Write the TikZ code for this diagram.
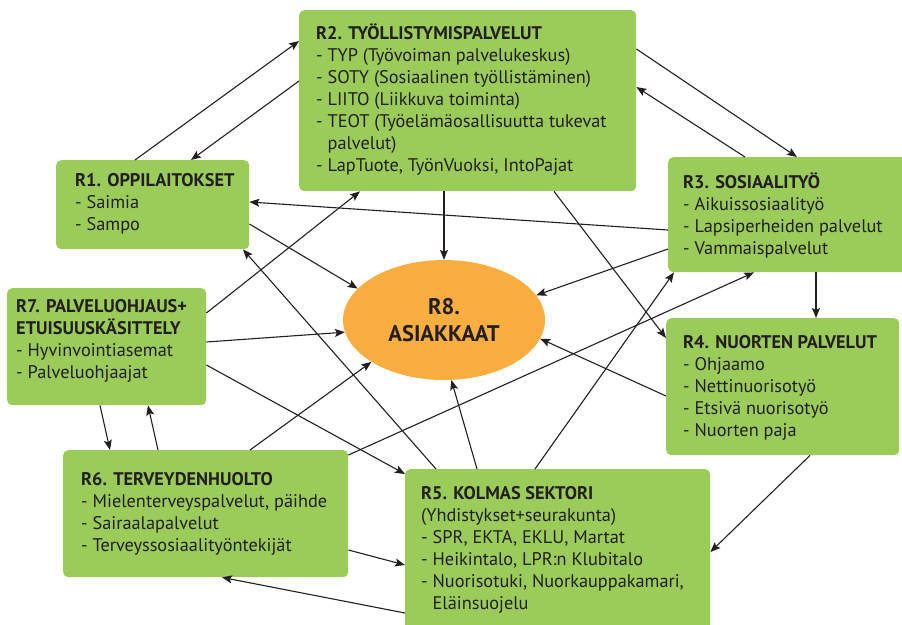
\documentclass[tikz,border=0pt]{standalone}
\usepackage{fontspec}
\setmainfont{PT Sans}
\usetikzlibrary{arrows.meta,shapes.geometric,calc}
\definecolor{boxgreen}{HTML}{9BCB58}
\definecolor{asorange}{HTML}{FAAE40}
\definecolor{ink}{HTML}{231F20}
\begin{document}
\begin{tikzpicture}[x=1pt,y=-1pt,
  box/.style={draw=none,fill=boxgreen,rounded corners=5pt,inner sep=0pt,anchor=north west},
  txt/.style={anchor=north west,yshift=15.4pt,align=left,inner sep=0pt,text=ink,font=\fontsize{18.3}{22}\selectfont,execute at begin node=\strut},
  link/.style={draw=ink,line width=1.1pt,-{Stealth[length=10pt,width=8pt,inset=2pt]}}]
\useasboundingbox (0,0) rectangle (902,624);
% boxes
\node[box,minimum width=193pt,minimum height=89pt] (r1) at (56,160) {};
\node[box,minimum width=337pt,minimum height=181pt] (r2) at (299,10) {};
\node[box,minimum width=240pt,minimum height=115pt] (r3) at (668,157) {};
\node[box,minimum width=233pt,minimum height=137pt] (r4) at (666,318) {};
\node[box,minimum width=305pt,minimum height=175pt] (r5) at (405,469) {};
\node[box,minimum width=285pt,minimum height=127pt] (r6) at (63,450) {};
\node[box,minimum width=199pt,minimum height=117pt] (r7) at (7,288) {};
\node[ellipse,fill=asorange,minimum width=202pt,minimum height=120pt,inner sep=0pt,align=center,text=ink,font=\bfseries\fontsize{22.6}{27}\selectfont] (r8) at (444,320) {R8.\\ASIAKKAAT};
% texts
\node[txt] (r1t) at (75,189) {\textbf{R1. OPPILAITOKSET}\\- Saimia\\- Sampo};
\node[txt] (r2t) at (316,39) {\textbf{R2. TYÖLLISTYMISPALVELUT}\\- TYP (Työvoiman palvelukeskus)\\- SOTY (Sosiaalinen työllistäminen)\\- LIITO (Liikkuva toiminta)\\- TEOT (Työelämäosallisuutta tukevat\\\phantom{- }palvelut)\\- LapTuote, TyönVuoksi, IntoPajat};
\node[txt] (r3t) at (683,188) {\textbf{R3. SOSIAALITYÖ}\\- Aikuissosiaalityö\\- Lapsiperheiden palvelut\\- Vammaispalvelut};
\node[txt] (r4t) at (683,351) {\textbf{R4. NUORTEN PALVELUT}\\- Ohjaamo\\- Nettinuorisotyö\\- Etsivä nuorisotyö\\- Nuorten paja};
\node[txt] (r5t) at (421,502) {\textbf{R5. KOLMAS SEKTORI}\\(Yhdistykset+seurakunta)\\- SPR, EKTA, EKLU, Martat\\- Heikintalo, LPR:n Klubitalo\\- Nuorisotuki, Nuorkauppakamari,\\\phantom{- }Eläinsuojelu};
\node[txt] (r6t) at (81,488) {\textbf{R6. TERVEYDENHUOLTO}\\- Mielenterveyspalvelut, päihde\\- Sairaalapalvelut\\- Terveyssosiaalityöntekijät};
\node[txt] (r7t) at (16,315) {\textbf{R7. PALVELUOHJAUS+}\\\textbf{ETUISUUSKÄSITTELY}\\- Hyvinvointiasemat\\- Palveluohjaajat};
% connectors
\draw[link] ([xshift=79pt]r1.north west) -- ([yshift=-31pt]r2.north west);
\draw[link] ([yshift=-71pt]r2.north west) -- ([xshift=135pt]r1.north west);
\draw[link] ([xshift=145pt]r2.south west) -- (r8.90);
\draw[link] ([yshift=-39pt]r2.north east) -- ([xshift=129pt]r3.north west);
\draw[link] ([xshift=77pt]r3.north west) -- ([yshift=-77pt]r2.north east);
\draw[link] ([yshift=-73pt]r3.north west) -- ([yshift=-42pt]r1.north east);
\draw[link] ([yshift=-92pt]r3.north west) -- (r8.15);
\draw[link] ([xshift=148pt]r3.south west) -- ([xshift=150pt]r4.north west);
\draw[link] ([xshift=255pt]r2.south west) -- ([yshift=-20pt]r4.north west);
\draw[link] ([yshift=-64pt]r1.north east) -- (r8.160);
\draw[link] ([yshift=-25pt]r7.north east) -- ([xshift=61pt]r2.south west);
\draw[link] ([xshift=31pt]r5.north west) -- ([xshift=187pt]r1.south west);
\draw[link] ([yshift=-54pt]r7.north east) -- (r8.187);
\draw[link] ([yshift=-77pt]r7.north east) -- ([yshift=-5pt]r5.north west);
\draw[link] ([xshift=93pt]r7.south west) -- ([xshift=47pt]r6.north west);
\draw[link] ([xshift=95pt]r6.north west) -- ([xshift=141pt]r7.south west);
\draw[link] ([xshift=187pt]r6.north west) -- (r8.210);
\draw[link] ([yshift=-5pt]r6.north east) -- ([xshift=86pt]r3.south west);
\draw[link] ([yshift=-100pt]r6.north east) -- ([yshift=-96pt]r5.north west);
\draw[link] ([yshift=-144pt]r5.north west) -- ([xshift=159pt]r6.south west);
\draw[link] ([xshift=130pt]r5.north west) -- ([xshift=6pt]r3.south west);
\draw[link] ([xshift=72pt]r5.north west) -- (r8.277);
\draw[link] ([yshift=-78pt]r4.north west) -- (r8.349);
\draw[link] ([xshift=144pt]r4.south west) -- ([yshift=-83pt]r5.north east);
\end{tikzpicture}
\end{document}
